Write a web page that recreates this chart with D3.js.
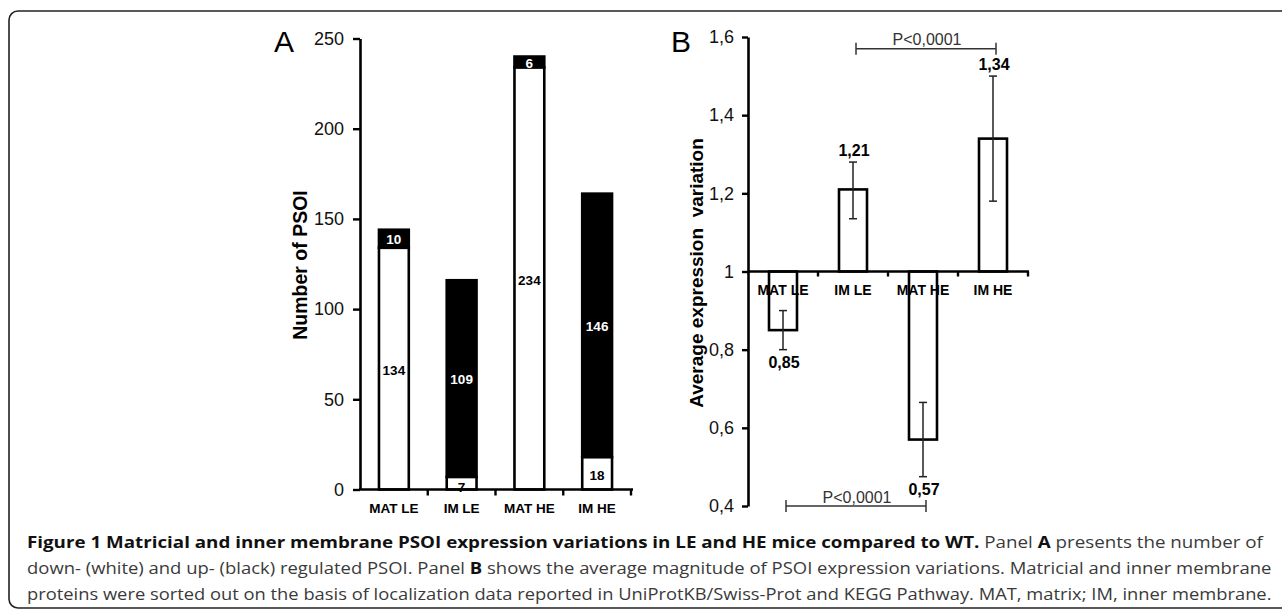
<!DOCTYPE html>
<html>
<head>
<meta charset="utf-8">
<script src="https://cdn.jsdelivr.net/npm/d3@7"></script>
<style>
  html, body { margin: 0; padding: 0; background: #fff; }
  svg { display: block; }
</style>
</head>
<body>
<svg id="chart" width="1282" height="611"></svg>
<script>
// ---------- data ----------
const categories = ["MAT LE", "IM LE", "MAT HE", "IM HE"];
// Panel A: number of PSOI
const downRegulated = [134, 7, 234, 18];   // white
const upRegulated   = [10, 109, 6, 146];   // black
const yTicksA = [0, 50, 100, 150, 200, 250];
// Panel B: average expression variation
const avgValues = [0.85, 1.21, 0.57, 1.34];
const valueLabels = ["0,85", "1,21", "0,57", "1,34"];
const errHigh = [0.90, 1.28, 0.665, 1.50];
const errLow  = [0.80, 1.135, 0.475, 1.18];
const yTicksB = [0.4, 0.6, 0.8, 1.0, 1.2, 1.4, 1.6];
const yTickLabelsB = ["0,4", "0,6", "0,8", "1", "1,2", "1,4", "1,6"];
const pBrackets = [
  { from: "IM LE", to: "IM HE", level: 1.57, label: "P<0,0001" },
  { from: "MAT LE", to: "MAT HE", level: 0.4, label: "P<0,0001" }
];

const svg = d3.select("#chart");
const AX = "'Liberation Sans', Arial, Helvetica, sans-serif";

// frame
svg.append("rect").attr("x", 9).attr("y", 11).attr("width", 1300).attr("height", 597)
  .attr("rx", 9).attr("fill", "none").attr("stroke", "#222").attr("stroke-width", 1.6);

// ================= Panel A =================
const gA = svg.append("g");
const xA = d3.scaleBand().domain(categories).range([360, 631]).paddingInner(0.56).paddingOuter(0.28);
const yA = d3.scaleLinear().domain([0, 250]).range([489.5, 38.5]);

categories.forEach((c, i) => {
  const d = downRegulated[i], u = upRegulated[i];
  const x = xA(c), w = xA.bandwidth();
  gA.append("rect").attr("x", x).attr("y", yA(d)).attr("width", w).attr("height", yA(0) - yA(d))
    .attr("fill", "#fff").attr("stroke", "#000").attr("stroke-width", 2.6);
  gA.append("rect").attr("x", x).attr("y", yA(d + u)).attr("width", w).attr("height", yA(d) - yA(d + u))
    .attr("fill", "#000").attr("stroke", "#000").attr("stroke-width", 2.6);
  const small = yA(0) - yA(d) < 16;
  gA.append("text").attr("x", x + w / 2).attr("y", small ? yA(0) - 2 : (yA(0) + yA(d)) / 2 + 2).attr("dy", "0.35em")
    .attr("text-anchor", "middle").attr("font-family", AX).attr("font-weight", "bold")
    .attr("font-size", 13.5).attr("fill", "#000").text(d);
  gA.append("text").attr("x", x + w / 2).attr("y", (yA(d) + yA(d + u)) / 2 + 1).attr("dy", "0.35em")
    .attr("text-anchor", "middle").attr("font-family", AX).attr("font-weight", "bold")
    .attr("font-size", 13.5).attr("fill", "#fff").text(u);
});

// y axis
const yAxisA = d3.axisLeft(yA).tickValues(yTicksA).tickSize(7).tickPadding(9).tickSizeOuter(0);
const gyA = gA.append("g").attr("transform", "translate(360,0)").call(yAxisA);
gyA.select(".domain").attr("stroke", "#000").attr("stroke-width", 2.6);
gyA.selectAll(".tick line").attr("stroke", "#000").attr("stroke-width", 2.4);
gyA.selectAll(".tick text").attr("font-family", AX).attr("font-size", 18).attr("fill", "#111");

// x axis with ticks at band boundaries
const bandEdgesA = categories.map(c => xA(c) - xA.step() * xA.paddingInner() / 2 + xA.step());
const gxA = gA.append("g");
gxA.append("line").attr("x1", 359).attr("x2", 633).attr("y1", yA(0)).attr("y2", yA(0))
  .attr("stroke", "#000").attr("stroke-width", 2.6);
gxA.selectAll(".edge").data(bandEdgesA).join("line").attr("class", "edge")
  .attr("x1", d => d).attr("x2", d => d).attr("y1", yA(0)).attr("y2", yA(0) + 6)
  .attr("stroke", "#000").attr("stroke-width", 2.4);
gxA.selectAll(".cat").data(categories).join("text").attr("class", "cat")
  .attr("x", d => xA(d) + xA.bandwidth() / 2).attr("y", 513)
  .attr("text-anchor", "middle").attr("font-family", AX).attr("font-weight", "bold")
  .attr("font-size", 13.5).attr("fill", "#000").text(d => d);

gA.append("text").attr("transform", "translate(307,265) rotate(-90)").attr("text-anchor", "middle")
  .attr("font-family", AX).attr("font-weight", "bold").attr("font-size", 19.5).attr("fill", "#000")
  .text("Number of PSOI");
gA.append("text").attr("x", 274).attr("y", 52).attr("font-family", AX).attr("font-size", 30)
  .attr("fill", "#000").text("A");

// ================= Panel B =================
const gB = svg.append("g");
const xB = d3.scaleBand().domain(categories).range([748, 1028]).paddingInner(0.6).paddingOuter(0.3);
const yB = d3.scaleLinear().domain([0.4, 1.6]).range([506, 37]);
const cx = c => xB(c) + xB.bandwidth() / 2;

categories.forEach((c, i) => {
  const v = avgValues[i];
  gB.append("rect").attr("x", xB(c)).attr("y", Math.min(yB(v), yB(1)))
    .attr("width", xB.bandwidth()).attr("height", Math.abs(yB(v) - yB(1)))
    .attr("fill", "#fff").attr("stroke", "#000").attr("stroke-width", 2.6);
});

const yAxisB = d3.axisLeft(yB).tickValues(yTicksB).tickSize(6).tickPadding(8).tickSizeOuter(0)
  .tickFormat((d, i) => yTickLabelsB[i]);
const gyB = gB.append("g").attr("transform", "translate(748,0)").call(yAxisB);
gyB.select(".domain").attr("stroke", "#000").attr("stroke-width", 2.6);
gyB.selectAll(".tick line").attr("stroke", "#000").attr("stroke-width", 2.4);
gyB.selectAll(".tick text").attr("font-family", AX).attr("font-size", 18).attr("fill", "#111");

const bandEdgesB = categories.map(c => xB(c) - xB.step() * xB.paddingInner() / 2 + xB.step());
gB.append("line").attr("x1", 748).attr("x2", 1029).attr("y1", yB(1)).attr("y2", yB(1))
  .attr("stroke", "#000").attr("stroke-width", 2.6);
gB.selectAll(".edge").data(bandEdgesB).join("line").attr("class", "edge")
  .attr("x1", d => d).attr("x2", d => d).attr("y1", yB(1)).attr("y2", yB(1) + 5)
  .attr("stroke", "#000").attr("stroke-width", 2.4);

categories.forEach((c, i) => {
  const x = cx(c);
  const g = gB.append("g").attr("stroke", "#222").attr("stroke-width", 1.5);
  g.append("line").attr("x1", x).attr("x2", x).attr("y1", yB(errHigh[i])).attr("y2", yB(errLow[i]));
  g.append("line").attr("x1", x - 4).attr("x2", x + 4).attr("y1", yB(errHigh[i])).attr("y2", yB(errHigh[i]));
  g.append("line").attr("x1", x - 4).attr("x2", x + 4).attr("y1", yB(errLow[i])).attr("y2", yB(errLow[i]));
});

gB.selectAll(".cat").data(categories).join("text").attr("class", "cat")
  .attr("x", d => cx(d)).attr("y", 295)
  .attr("text-anchor", "middle").attr("font-family", AX).attr("font-weight", "bold")
  .attr("font-size", 14).attr("fill", "#000").text(d => d);

categories.forEach((c, i) => {
  const up = avgValues[i] >= 1;
  gB.append("text").attr("x", cx(c) + 1)
    .attr("y", up ? yB(errHigh[i]) - 6 : yB(errLow[i]) + 18)
    .attr("text-anchor", "middle").attr("font-family", AX).attr("font-weight", "bold")
    .attr("font-size", 16).attr("fill", "#000").text(valueLabels[i]);
});

pBrackets.forEach(b => {
  const x1 = cx(b.from) + 3, x2 = cx(b.to) + 3, y = yB(b.level);
  const g = gB.append("g").attr("stroke", "#333").attr("stroke-width", 1.5);
  g.append("line").attr("x1", x1).attr("x2", x2).attr("y1", y).attr("y2", y);
  g.append("line").attr("x1", x1).attr("x2", x1).attr("y1", y - 6).attr("y2", y + 6);
  g.append("line").attr("x1", x2).attr("x2", x2).attr("y1", y - 6).attr("y2", y + 6);
  gB.append("text").attr("x", (x1 + x2) / 2 + 1).attr("y", y - 3.5).attr("text-anchor", "middle")
    .attr("font-family", AX).attr("font-size", 16).attr("fill", "#333").text(b.label);
});

gB.append("text").attr("transform", "translate(703,273) rotate(-90)").attr("text-anchor", "middle")
  .attr("font-family", AX).attr("font-weight", "bold").attr("font-size", 19).attr("fill", "#000")
  .attr("xml:space", "preserve").text("Average expression  variation");
gB.append("text").attr("x", 671).attr("y", 52).attr("font-family", AX).attr("font-size", 30)
  .attr("fill", "#000").text("B");

// ================= Caption =================
const capLines = [
  { y: 548, end: 1264, parts: [
    ["b", "Figure 1 Matricial and inner membrane PSOI expression variations in LE and HE mice compared to WT."],
    ["n", " Panel "], ["b", "A"], ["n", " presents the number of"]] },
  { y: 574, end: 1272, parts: [
    ["n", "down- (white) and up- (black) regulated PSOI. Panel "], ["b", "B"],
    ["n", " shows the average magnitude of PSOI expression variations. Matricial and inner membrane"]] },
  { y: 600, end: 1272, parts: [
    ["n", "proteins were sorted out on the basis of localization data reported in UniProtKB/Swiss-Prot and KEGG Pathway. MAT, matrix; IM, inner membrane."]] }
];
const x0 = 27;
capLines.forEach(line => {
  const t = svg.append("text").attr("x", 0).attr("y", 0)
    .attr("font-family", "'Open Sans', sans-serif").attr("font-size", 15.5).attr("xml:space", "preserve");
  line.parts.forEach(p => {
    t.append("tspan").attr("font-weight", p[0] === "b" ? "bold" : "normal")
      .attr("fill", p[0] === "b" ? "#111" : "#3a3a3a").text(p[1]);
  });
  const w = t.node().getComputedTextLength();
  const sx = (line.end - x0) / w;
  t.attr("transform", `translate(${x0},${line.y}) scale(${sx},1)`);
});
</script>
</body>
</html>
